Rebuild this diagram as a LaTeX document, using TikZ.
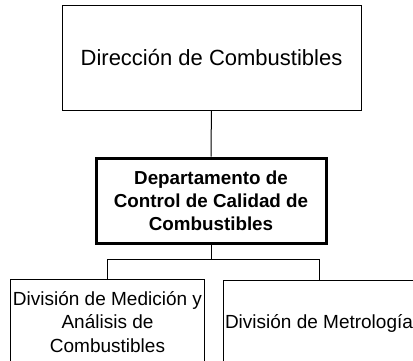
\documentclass[tikz,border=0pt]{standalone}
\usepackage{fontspec}
\setmainfont{Liberation Sans}
\usepackage{tikz}
\usetikzlibrary{
    positioning,
    calc
}
\tikzset{
    obox/.style={
        rectangle, draw=black, line width=1pt, fill=white, text=black,
        align=center, inner sep=2pt, font=\fontsize{19}{23.5}\selectfont
    },
    odept/.style={
        obox, line width=3pt, font=\fontsize{18.8}{23}\selectfont\bfseries
    },
    olink/.style={line width=1pt, black},
}

\begin{document}
\begin{tikzpicture}[x=1pt, y=-1pt]

    \useasboundingbox (0,0) rectangle (413,360);
    \clip (0,0) rectangle (413,360);

    \node [obox, minimum width=299pt, minimum height=105pt,
        font=\fontsize{22}{26}\selectfont]
        (dir) at (211.5,57.5) {Dirección de Combustibles};
    \node [odept, minimum width=230pt, minimum height=85pt]
        (dept) at (211,200.5) {Departamento de \\ Control de Calidad de \\ Combustibles};
    \node [obox, minimum width=191pt, minimum height=86pt]
        (div1) at (107.5,322) {División de Medición y \\ Análisis de \\ Combustibles};
    \node [obox, minimum width=192pt, minimum height=86pt]
        (div2) at (319,323) {División de Metrología};

    \draw [olink] (dir) -- (dept);
    \coordinate (bus) at ($(dept.south)+(0,15)$);
    \draw [olink] (dept.south) -- (bus) -| (div1.north);
    \draw [olink] (bus) -| (div2.north);

\end{tikzpicture}
\end{document}
